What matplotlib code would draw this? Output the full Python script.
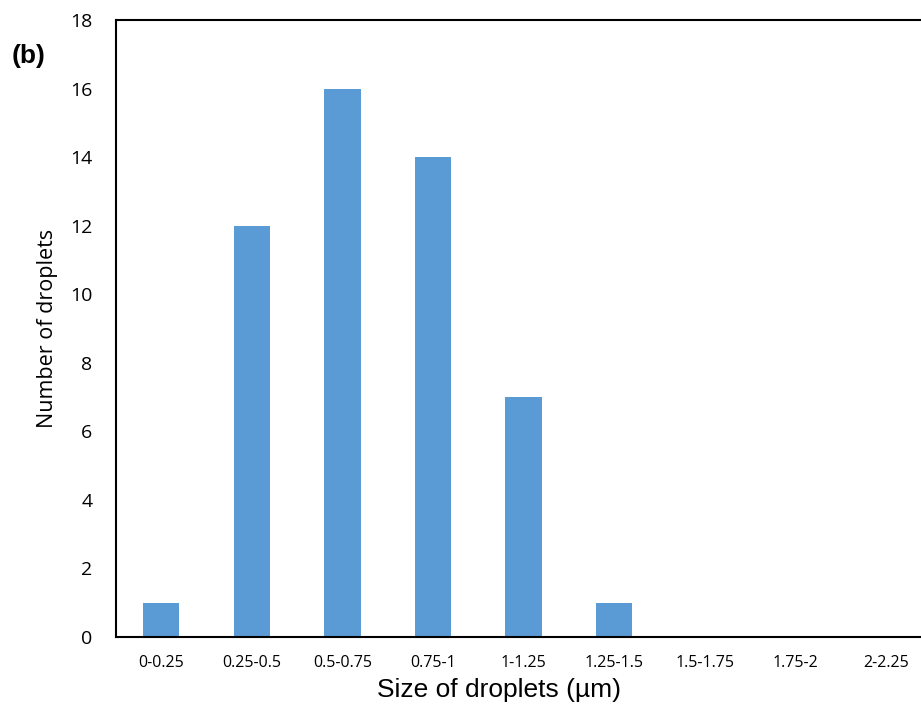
import matplotlib.pyplot as plt

categories = ['0-0.25', '0.25-0.5', '0.5-0.75', '0.75-1', '1-1.25',
              '1.25-1.5', '1.5-1.75', '1.75-2', '2-2.25']
counts = [1, 12, 16, 14, 7, 1, 0, 0, 0]
yticks = [0, 2, 4, 6, 8, 10, 12, 14, 16, 18]

tick_font = ['Open Sans', 'DejaVu Sans']

fig = plt.figure(figsize=(9.21, 7.11), dpi=100)
# axes runs past the right edge of the picture, as in the reference
ax = fig.add_axes([116/921, 1 - 637/711, 815/921, 617/711])

x = range(len(categories))
ax.bar(x, counts, width=0.4, color='#5B9BD5', zorder=2)

ax.set_xlim(-0.5, len(categories) - 0.5)
ax.set_ylim(0, 18)
ax.set_yticks(yticks)
ax.set_xticks(list(x))
ax.set_xticklabels(categories, fontsize=11.5, family=tick_font)
ax.set_yticklabels([str(v) for v in yticks], fontsize=14, family=tick_font)
ax.tick_params(axis='both', length=0)
ax.tick_params(axis='x', pad=13)
ax.tick_params(axis='y', pad=17)

for s in ax.spines.values():
    s.set_linewidth(1.5)
    s.set_color('black')

ax.set_xlabel('Size of droplets (µm)', fontsize=19, family='Liberation Sans')
ax.xaxis.set_label_coords(0.47, -0.067)
ax.set_ylabel('Number of droplets', fontsize=15.5, family=tick_font, labelpad=9)

fig.text(12/921, 1 - 56/711, '(b)', fontsize=19, fontweight='bold',
         family='Liberation Sans', va='center')

fig.savefig('out.png', dpi=100)
